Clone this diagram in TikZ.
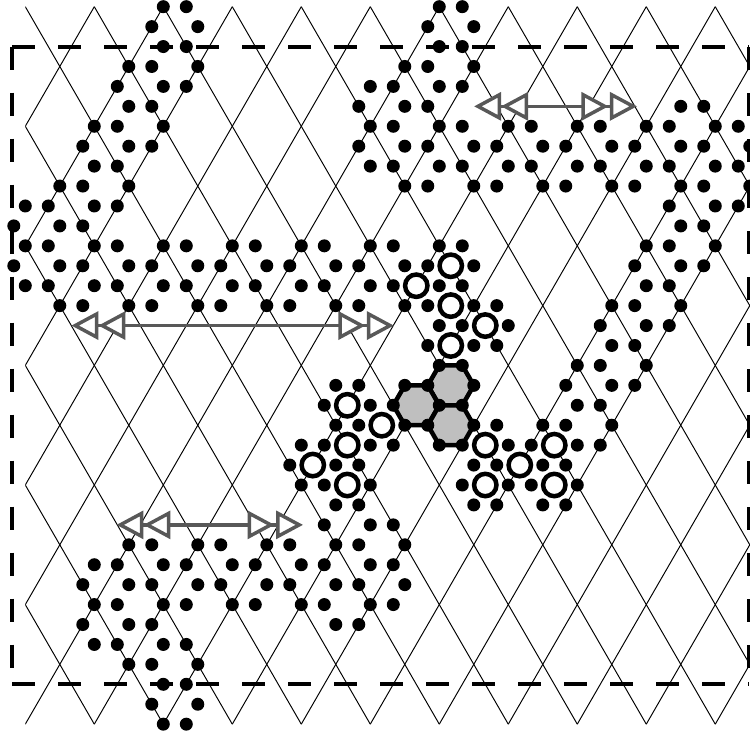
\documentclass[tikz,border=0pt]{standalone}
\usepackage{xcolor}
\definecolor{arrowgray}{RGB}{88, 88, 88}
\definecolor{cellgray}{RGB}{191, 191, 191}
\usetikzlibrary{arrows.meta}
\tikzset{
    latline/.style={line width=0.55pt, black},
    frameline/.style={line width=0.08cm, black, dash pattern=on 0.46cm off 0.46cm},
    span/.style={line width=0.07cm, arrowgray, {Triangle[fill=white,length=0.54cm,width=0.56cm,sep=0.03cm]Triangle[fill=white,length=0.54cm,width=0.56cm]}-{Triangle[fill=white,length=0.54cm,width=0.56cm,sep=0.03cm]Triangle[fill=white,length=0.54cm,width=0.56cm]}},
    cell/.style={line width=0.09cm, black, fill=cellgray, line join=round},
    ring/.style={line width=0.09cm, black, fill=white},
}

\begin{document}
\begin{tikzpicture}[x=0.23cm, y=-0.3986cm]
    \useasboundingbox (-2.2,-0.336) rectangle (63.02,36.44);

    % Lattice
    \begin{scope}
        \clip (0,0) rectangle (63.02,36);
        \foreach \c in {-36,-30,...,60} {
            \draw[latline] (\c,0) -- (\c+36,36);
        }
        \foreach \c in {0,6,...,96} {
            \draw[latline] (\c,0) -- (\c-36,36);
        }
    \end{scope}

    % Dashed frame
    \coordinate (NW) at (-1.14,2);
    \coordinate (NE) at (62.93,2);
    \coordinate (SW) at (-1.14,34);
    \coordinate (SE) at (62.93,34);
    \draw[frameline] (NW) -- (NE);
    \draw[frameline] (NW) -- (SW);
    \draw[frameline] (NE) -- (SE);
    \draw[frameline] (SW) -- (SE);

    % Shaded cells
    \draw[cell] (36,18) -- (38,18) -- (39,19) -- (38,20) -- (36,20) -- (35,19) -- cycle;
    \draw[cell] (33,19) -- (35,19) -- (36,20) -- (35,21) -- (33,21) -- (32,20) -- cycle;
    \draw[cell] (36,20) -- (38,20) -- (39,21) -- (38,22) -- (36,22) -- (35,21) -- cycle;

    % Dots, row by row
    \foreach \n/\cols in {
        0/{12,14,36,38},
        1/{11,15,35,39},
        2/{12,14,36,38},
        3/{9,11,15,33,35,39},
        4/{8,12,14,30,32,36,38},
        5/{9,11,29,33,35,57,59},
        6/{6,8,12,30,32,36,38,42,44,48,50,54,56,60,62},
        7/{5,9,11,29,33,35,39,41,45,47,51,53,57,59,63},
        8/{6,8,30,32,36,38,42,44,48,50,54,56,60,62},
        9/{3,5,9,33,35,39,41,45,47,51,53,57,59,63},
        10/{0,2,6,8,56,60,62},
        11/{-1,3,5,57,59},
        12/{0,2,6,8,12,14,18,20,24,26,30,32,36,38,54,56,60},
        13/{-1,3,5,9,11,15,17,21,23,27,29,33,35,39,53,57,59},
        14/{0,2,6,8,12,14,18,20,24,26,30,32,36,38,54,56},
        15/{3,5,9,11,15,17,21,23,27,29,33,35,39,41,51,53,57},
        16/{36,38,42,50,54,56},
        17/{35,39,41,51,53},
        18/{36,38,48,50,54},
        19/{27,29,33,35,39,47,51,53},
        20/{26,30,32,36,38,48,50},
        21/{27,29,33,35,39,41,45,47,51},
        22/{24,26,30,32,36,38,42,44,48,50},
        23/{23,27,29,39,41,45,47},
        24/{24,26,30,38,42,44,48},
        25/{27,29,39,41,45,47},
        26/{26,30,32},
        27/{9,11,15,17,21,23,27,29,33},
        28/{6,8,12,14,18,20,24,26,30,32},
        29/{5,9,11,15,17,21,23,27,29,33},
        30/{6,8,12,14,18,20,24,26,30,32},
        31/{5,9,11,27,29},
        32/{6,8,12,14},
        33/{9,11,15},
        34/{12,14},
        35/{11,15},
        36/{12,14}} {
        \foreach \m in \cols {
            \fill (\m,\n) circle (0.13cm);
        }
    }

    % Rings
    \foreach \m/\n in {37/13,34/14,37/15,40/16,37/17,
                       28/20,31/21,28/22,25/23,28/24,
                       40/22,46/22,43/23,40/24,46/24} {
        \draw[ring] (\m,\n) circle (0.224cm);
    }

    % Double arrows
    \coordinate (A1) at (3.88,16);
    \coordinate (B1) at (32.05,16);
    \coordinate (A2) at (38.9,5);
    \coordinate (B2) at (53.19,5);
    \coordinate (A3) at (7.8,26);
    \coordinate (B3) at (24.15,26);
    \draw[span] (A1) -- (B1);
    \draw[span] (A2) -- (B2);
    \draw[span] (A3) -- (B3);
\end{tikzpicture}
\end{document}
